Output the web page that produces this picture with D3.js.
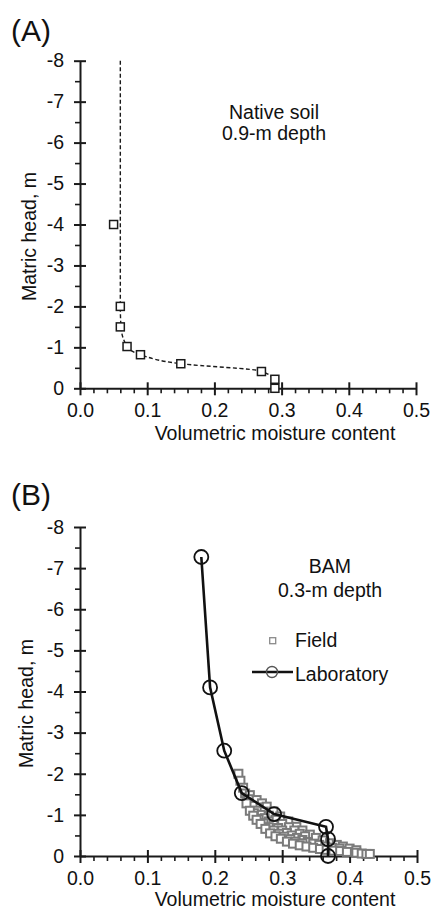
<!DOCTYPE html>
<html lang="en">
<head>
<meta charset="utf-8">
<script src="https://d3js.org/d3.v7.min.js"></script>
<style>
  body { margin: 0; background: #fff; }
  svg { display: block; font-family: "Liberation Sans", Arial, sans-serif; }
  .axis path, .axis line { stroke: #1a1a1a; stroke-width: 2px; }
  .axis text { font-size: 19.5px; fill: #111; font-family: "Liberation Sans", Arial, sans-serif; }
  .minor line { stroke-width: 1.6px; }
  .lbl { font-size: 19.5px; fill: #111; }
</style>
</head>
<body>
<svg width="434" height="910"></svg>
<script>
// panel A - native soil, 0.9 m
var nativeTheta = [0.05, 0.06, 0.06, 0.07, 0.09, 0.15, 0.27, 0.29, 0.29];
var nativeHead  = [-4.0, -2.0, -1.5, -1.02, -0.82, -0.6, -0.41, -0.22, 0.0];
// fitted curve (dashed)
var fitTheta = [0.06, 0.06, 0.06, 0.061, 0.07, 0.09, 0.15, 0.27, 0.288, 0.29];
var fitHead  = [-8.0, -4.0, -2.0, -1.5, -1.02, -0.82, -0.6, -0.42, -0.2, 0.0];

// panel B - BAM, 0.3 m
var labTheta = [0.18, 0.193, 0.214, 0.24, 0.288, 0.365, 0.368, 0.368];
var labHead  = [-7.27, -4.1, -2.56, -1.53, -1.02, -0.71, -0.41, 0.0];

// field readings
var fieldTheta = [
  0.235, 0.238, 0.242, 0.245, 0.248,
  0.252, 0.262, 0.27, 0.277, 0.287, 0.297, 0.309, 0.321, 0.33, 0.341, 0.35, 0.36, 0.371, 0.381, 0.39, 0.4, 0.41,
  0.265, 0.272, 0.28, 0.29, 0.3, 0.31, 0.318, 0.326, 0.334,
  0.25, 0.256, 0.262, 0.268, 0.274, 0.28, 0.287, 0.294, 0.3, 0.307, 0.314, 0.322, 0.33, 0.338, 0.346, 0.355, 0.364, 0.374, 0.385,
  0.258, 0.265, 0.272, 0.28, 0.287, 0.295, 0.303, 0.312, 0.32, 0.33,
  0.247, 0.252, 0.257, 0.262, 0.268, 0.275, 0.282, 0.29, 0.298, 0.307, 0.316, 0.326, 0.336, 0.346, 0.356, 0.366, 0.376, 0.386, 0.396, 0.41, 0.418, 0.425, 0.43];
var fieldHead = [
  -2.0, -1.83, -1.66, -1.52, -1.42,
  -1.48, -1.36, -1.28, -1.2, -1.08, -0.96, -0.84, -0.71, -0.62, -0.52, -0.44, -0.38, -0.31, -0.27, -0.23, -0.18, -0.14,
  -1.18, -1.08, -0.98, -0.88, -0.78, -0.7, -0.62, -0.54, -0.48,
  -1.38, -1.22, -1.1, -1.0, -0.92, -0.84, -0.76, -0.68, -0.62, -0.56, -0.5, -0.44, -0.39, -0.34, -0.3, -0.27, -0.23, -0.2, -0.18,
  -1.04, -0.9, -0.8, -0.7, -0.62, -0.54, -0.47, -0.41, -0.35, -0.31,
  -1.28, -1.1, -0.98, -0.88, -0.78, -0.66, -0.55, -0.48, -0.42, -0.35, -0.3, -0.26, -0.23, -0.2, -0.17, -0.15, -0.13, -0.12, -0.1, -0.08, -0.06, -0.05, -0.05];

var xMajor = [0, 0.1, 0.2, 0.3, 0.4, 0.5];
var yMajor = [-8, -7, -6, -5, -4, -3, -2, -1, 0];

var svg = d3.select("svg");

function drawFrame(top, bottom, right, yLabelX, letter, letterY, titleY) {
  var x = d3.scaleLinear().domain([0, 0.5]).range([80, right]);
  var y = d3.scaleLinear().domain([-8, 0]).range([top, bottom]);
  var xMinor = d3.range(0, 0.5001, 0.02).filter(function(v) { return Math.abs(v * 10 - Math.round(v * 10)) > 1e-6; });
  var yMinor = d3.range(-7.5, 0, 1);

  // minor ticks
  svg.append("g").attr("class", "axis minor")
    .attr("transform", "translate(0," + bottom + ")")
    .call(d3.axisBottom(x).tickValues(xMinor).tickSize(5).tickFormat(""))
    .select(".domain").remove();
  svg.append("g").attr("class", "axis minor")
    .attr("transform", "translate(80,0)")
    .call(d3.axisLeft(y).tickValues(yMinor).tickSize(5).tickFormat(""))
    .select(".domain").remove();

  var gx = svg.append("g").attr("class", "axis")
    .attr("transform", "translate(0," + bottom + ")")
    .call(d3.axisBottom(x).tickValues(xMajor).tickSizeInner(7).tickSizeOuter(0)
      .tickFormat(d3.format(".1f")));
  gx.selectAll(".tick line").attr("y1", -6);
  gx.selectAll(".tick text").attr("dy", "0.71em").attr("y", 15);

  var gy = svg.append("g").attr("class", "axis")
    .attr("transform", "translate(80,0)")
    .call(d3.axisLeft(y).tickValues(yMajor).tickSizeInner(6).tickSizeOuter(0)
      .tickFormat(function(d) { return String(d); }));
  gy.selectAll(".tick line").attr("x2", 6).attr("x1", -6);
  gy.selectAll(".tick text").attr("x", -16);

  svg.append("text").attr("class", "lbl")
    .attr("text-anchor", "middle")
    .attr("x", 275).attr("y", titleY)
    .text("Volumetric moisture content");

  svg.append("text").attr("class", "lbl")
    .attr("text-anchor", "middle")
    .attr("transform", "translate(" + yLabelX + "," + ((top + bottom) / 2 + 12) + ") rotate(-90)")
    .attr("dy", "0.35em")
    .text("Matric head, m");

  svg.append("text")
    .attr("x", 11).attr("y", letterY)
    .attr("font-size", 30).attr("fill", "#111")
    .text(letter);

  return {x: x, y: y};
}

// ---- panel A
var A = drawFrame(60.7, 388.3, 416, 29, "(A)", 41, 440);

svg.append("path")
  .datum(d3.range(fitTheta.length))
  .attr("fill", "none").attr("stroke", "#1a1a1a")
  .attr("stroke-width", 1.4).attr("stroke-dasharray", "4,2.5")
  .attr("d", d3.line()
    .x(function(i) { return A.x(fitTheta[i]); })
    .y(function(i) { return A.y(fitHead[i]); })
    .curve(d3.curveMonotoneY));

svg.append("g").selectAll("rect")
  .data(d3.range(nativeTheta.length))
  .enter().append("rect")
  .attr("x", function(i) { return A.x(nativeTheta[i]) - 4; })
  .attr("y", function(i) { return A.y(nativeHead[i]) - 4; })
  .attr("width", 8).attr("height", 8)
  .attr("fill", "#fff").attr("stroke", "#1a1a1a").attr("stroke-width", 1.5);

svg.append("text").attr("class", "lbl").attr("text-anchor", "middle")
  .attr("x", 274).attr("y", 119).text("Native soil");
svg.append("text").attr("class", "lbl").attr("text-anchor", "middle")
  .attr("x", 274).attr("y", 140).text("0.9-m depth");

// ---- panel B
var B = drawFrame(527, 856, 417, 26, "(B)", 505, 906);

svg.append("g").selectAll("rect")
  .data(d3.range(fieldTheta.length))
  .enter().append("rect")
  .attr("x", function(i) { return B.x(fieldTheta[i]) - 4; })
  .attr("y", function(i) { return B.y(fieldHead[i]) - 4; })
  .attr("width", 8).attr("height", 8)
  .attr("fill", "#fff").attr("stroke", "#7a7a7a").attr("stroke-width", 2);

svg.append("path")
  .datum(d3.range(labTheta.length))
  .attr("fill", "none").attr("stroke", "#111").attr("stroke-width", 2.6)
  .attr("d", d3.line()
    .x(function(i) { return B.x(labTheta[i]); })
    .y(function(i) { return B.y(labHead[i]); }));

svg.append("g").selectAll("circle")
  .data(d3.range(labTheta.length))
  .enter().append("circle")
  .attr("cx", function(i) { return B.x(labTheta[i]); })
  .attr("cy", function(i) { return B.y(labHead[i]); })
  .attr("r", 7)
  .attr("fill", "none").attr("stroke", "#111").attr("stroke-width", 1.8);

svg.append("text").attr("class", "lbl").attr("text-anchor", "middle")
  .attr("x", 330).attr("y", 573).text("BAM");
svg.append("text").attr("class", "lbl").attr("text-anchor", "middle")
  .attr("x", 330).attr("y", 597).text("0.3-m depth");

// legend
svg.append("rect").attr("x", 269.7).attr("y", 637.7).attr("width", 6).attr("height", 6)
  .attr("fill", "#fff").attr("stroke", "#8a8a8a").attr("stroke-width", 1.3);
svg.append("text").attr("class", "lbl").attr("x", 295).attr("y", 647).text("Field");
svg.append("line").attr("x1", 252).attr("x2", 293).attr("y1", 672).attr("y2", 672)
  .attr("stroke", "#111").attr("stroke-width", 2.6);
svg.append("circle").attr("cx", 272).attr("cy", 672).attr("r", 5.5)
  .attr("fill", "none").attr("stroke", "#555").attr("stroke-width", 1.4);
svg.append("text").attr("class", "lbl").attr("x", 295).attr("y", 681).text("Laboratory");
</script>
</body>
</html>
